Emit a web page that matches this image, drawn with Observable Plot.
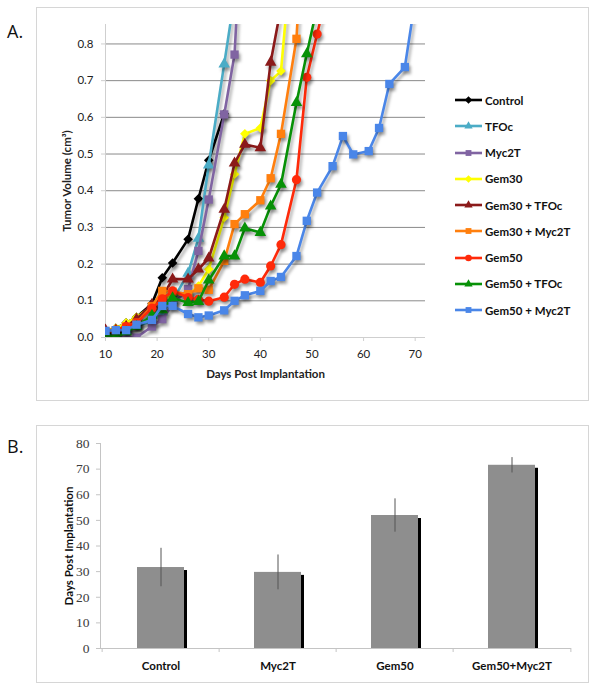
<!DOCTYPE html>
<html><head><meta charset="utf-8">
<script src="https://cdn.jsdelivr.net/npm/d3@7"></script>
<script src="https://cdn.jsdelivr.net/npm/@observablehq/plot@0.6"></script>
<style>
body{margin:0;background:#fff;}
#wrap{position:relative;width:596px;height:688px;overflow:hidden;font-family:Lato,sans-serif;}
.frame{position:absolute;border:1px solid #d6d6d6;box-sizing:border-box;}
.plabel{position:absolute;font-family:"Open Sans",sans-serif;font-size:18px;color:#111;line-height:1;}
.chart{position:absolute;}
.legend{position:absolute;left:455px;top:0;font-family:Lato,sans-serif;font-size:11.5px;font-weight:bold;color:#111;}
.legend .row{position:absolute;left:0;height:14px;display:flex;align-items:center;white-space:nowrap;}
.legend svg{margin-right:2px;overflow:visible;}
g[aria-description="series"]{filter:drop-shadow(2px 3px 1.5px rgba(0,0,0,0.32));}
</style></head>
<body><div id="wrap">
<div class="frame" style="left:36px;top:7px;width:553px;height:394px;"></div>
<div class="frame" style="left:36px;top:425px;width:553px;height:258px;"></div>
<div class="plabel" style="left:7px;top:22px;">A.</div>
<div class="plabel" style="left:7px;top:437px;">B.</div>
<div class="chart" id="chartA" style="left:36px;top:7px;"></div>
<div class="legend" id="legendA"></div>
<div class="chart" id="chartB" style="left:36px;top:425px;"></div>
</div>
<script>
// ---------- Panel A data ----------
const days = [10,12,14,16,19,21,23,26,28,30,33,35,37,40,42,44,47,49,51,54,56,58,61,63,65,68,70];
const seriesNames = ["Control","TFOc","Myc2T","Gem30","Gem30 + TFOc","Gem30 + Myc2T","Gem50","Gem50 + TFOc","Gem50 + Myc2T"];
const seriesColors = ["#000000","#4bacc6","#8064a2","#ffff00","#8b1a1a","#ff7f0e","#ff2a0a","#079107","#4a86e8"];
const seriesSymbols = ["diamond2","triangle","square","diamond2","triangle","square","circle","triangle","square"];
const control     = [0.015,0.025,0.04,0.055,0.092,0.163,0.203,0.268,0.378,0.483,0.61];
const tfoc        = [0.015,0.015,0.02,0.03,0.045,0.07,0.10,0.175,0.27,0.47,0.745,0.93];
const myc2t       = [0.015,0.01,0.0,0.0,0.03,0.05,0.09,0.132,0.236,0.376,0.608,0.771,1.3];
const gem30       = [0.02,0.025,0.04,0.055,0.085,0.10,0.12,0.115,0.14,0.186,0.327,0.445,0.555,0.571,0.70,0.726,1.2];
const gem30tfoc   = [0.02,0.02,0.03,0.05,0.09,0.11,0.159,0.159,0.186,0.216,0.349,0.475,0.526,0.517,0.75,0.9];
const gem30myc2t  = [0.015,0.02,0.03,0.04,0.085,0.127,0.125,0.118,0.134,0.13,0.209,0.309,0.336,0.374,0.434,0.555,0.814,1.3];
const gem50       = [0.015,0.02,0.03,0.04,0.08,0.105,0.127,0.109,0.104,0.099,0.11,0.145,0.159,0.15,0.195,0.253,0.43,0.709,0.827,1.0];
const gem50tfoc   = [0.01,0.0,0.015,0.03,0.06,0.075,0.108,0.095,0.098,0.156,0.222,0.222,0.298,0.286,0.358,0.417,0.64,0.773,0.9];
const gem50myc2t  = [0.018,0.02,0.02,0.035,0.048,0.086,0.086,0.064,0.055,0.06,0.074,0.10,0.115,0.127,0.154,0.165,0.222,0.318,0.395,0.467,0.549,0.499,0.508,0.571,0.691,0.737,0.92];
const seriesValues = [control,tfoc,myc2t,gem30,gem30tfoc,gem30myc2t,gem50,gem50tfoc,gem50myc2t];
const xTicksA = [10,20,30,40,50,60,70];
const yTicksA = [0,0.1,0.2,0.3,0.4,0.5,0.6,0.7,0.8];

// ---------- Panel B data ----------
const groupsB = ["Control","Myc2T","Gem50","Gem50+Myc2T"];
const meansB = [31.6,29.7,51.9,71.5];
const errB = [7.5,6.8,6.5,3.0];
const yTicksB = [0,10,20,30,40,50,60,70,80];

const series = seriesNames.map((name,i)=>({
  name, color: seriesColors[i], symbol: seriesSymbols[i],
  data: seriesValues[i].map((v,j)=>({day: days[j], v})).filter(d=>d.v!=null)
}));

const seriesMarks = series.flatMap(s=>[
  Plot.line(s.data,{x:"day",y:"v",stroke:s.color,strokeWidth:2.6,clip:true,ariaDescription:"series"}),
  Plot.dot(s.data,{x:"day",y:"v",symbol:()=>s.symbol,fill:s.color,stroke:"none",r: s.symbol==="square"?4.7:(s.symbol==="circle"?4.6:4.3),clip:true,ariaDescription:"series"})
]);

const chartA = Plot.plot({
  width:553, height:390,
  marginLeft:69, marginRight:164, marginTop:17, marginBottom:60,
  style:{fontFamily:"Lato, sans-serif",fontSize:"11.5px",color:"#222",background:"transparent",overflow:"visible"},
  x:{domain:[10,72]},
  y:{domain:[0,0.853]},
  symbol:{type:"identity"},
  marks:[
    Plot.gridY(yTicksA.slice(1),{stroke:"#8a8a8a",strokeOpacity:1,strokeWidth:1}),
    Plot.ruleY([0],{stroke:"#cfcfcf"}),
    Plot.ruleX([10],{stroke:"#cfcfcf"}),
    Plot.axisY(yTicksA,{tickFormat:d3.format(".1f"),tickSize:4,tickPadding:8,stroke:"#cfcfcf",label:"Tumor Volume (cm³)",labelAnchor:"center",labelArrow:"none",labelOffset:43,fill:"#222"}),
    Plot.axisX(xTicksA,{tickSize:4,tickPadding:8,stroke:"#cfcfcf",label:"Days Post Implantation",labelAnchor:"center",labelArrow:"none",labelOffset:40,fill:"#222"}),
    ...seriesMarks
  ]
});
document.getElementById("chartA").appendChild(chartA);
d3.select(chartA).selectAll('g[aria-label$="-axis label"] text').style("font-weight","bold").style("font-size","11.5px");

// legend
const leg = d3.select("#legendA");
series.forEach((s,i)=>{
  const row = leg.append("div").attr("class","row").style("top",(93+i*26.25)+"px");
  const svg = row.append("svg").attr("width",28).attr("height",10);
  svg.append("line").attr("x1",0).attr("x2",27).attr("y1",5).attr("y2",5).attr("stroke",s.color).attr("stroke-width",2.6);
  const symMap = {diamond2:d3.symbolDiamond2,triangle:d3.symbolTriangle,square:d3.symbolSquare,circle:d3.symbolCircle};
  svg.append("path").attr("d",d3.symbol(symMap[s.symbol], s.symbol==="triangle"?30:(s.symbol==="diamond2"?36:34))()).attr("transform","translate(13.5,5)").attr("fill",s.color);
  row.append("span").text(s.name);
});

// ---------- Panel B ----------
const rowsB = groupsB.map((g,i)=>({g, v: meansB[i], e: errB[i]}));
const mlB = 64, mrB = 18, wB = 553;
const stepB = (wB - mlB - mrB)/groupsB.length;
const chartB = Plot.plot({
  width:wB, height:257,
  marginLeft:mlB, marginRight:mrB, marginTop:18, marginBottom:34,
  style:{fontFamily:"Lato, sans-serif",fontSize:"11.5px",color:"#222",background:"transparent",overflow:"visible"},
  x:{domain:groupsB, paddingInner:0.6, paddingOuter:0.3},
  y:{domain:[0,80]},
  marks:[
    Plot.barY(rowsB,{x:"g",y:"v",fill:"#000",dx:3,dy:3,insetBottom:3}),
    Plot.barY(rowsB,{x:"g",y:"v",fill:"#8e8e8e"}),
    Plot.ruleX(rowsB,{x:"g",y1:d=>d.v-d.e,y2:d=>d.v+d.e,stroke:"#555",strokeWidth:1}),
    Plot.ruleY([0],{stroke:"#c4c4c4"}),
    Plot.frame({anchor:"left",stroke:"#c4c4c4"}),
    Plot.ruleX(groupsB,{x:d=>d,y1:0,y2:0,insetBottom:-4,dx:-stepB/2,stroke:"#c4c4c4"}),
    Plot.ruleX(groupsB.slice(-1),{x:d=>d,y1:0,y2:0,insetBottom:-4,dx:stepB/2,stroke:"#c4c4c4"}),
    Plot.axisY(yTicksB,{tickSize:4,tickPadding:7,stroke:"#c4c4c4",fill:"#3c3c3c",label:null}),
    Plot.axisY({label:"Days Post Implantation",labelAnchor:"center",labelArrow:"none",labelOffset:36,ticks:[],fill:"#111"}),
    Plot.axisX(groupsB,{tickSize:0,tickPadding:13,fontWeight:"bold",fill:"#111",label:null})
  ]
});
document.getElementById("chartB").appendChild(chartB);
d3.select(chartB).selectAll("text").each(function(){
  const t = (this.textContent||"").trim();
  if (/^[0-9]+$/.test(t)) {
    this.style.setProperty("font-family","'Liberation Serif', serif","important");
    this.style.setProperty("font-size","13.5px","important");
  } else if (t.indexOf("Days")>=0) {
    this.style.fontWeight="bold"; this.style.fontSize="11.5px";
  }
});
</script>
</body></html>
